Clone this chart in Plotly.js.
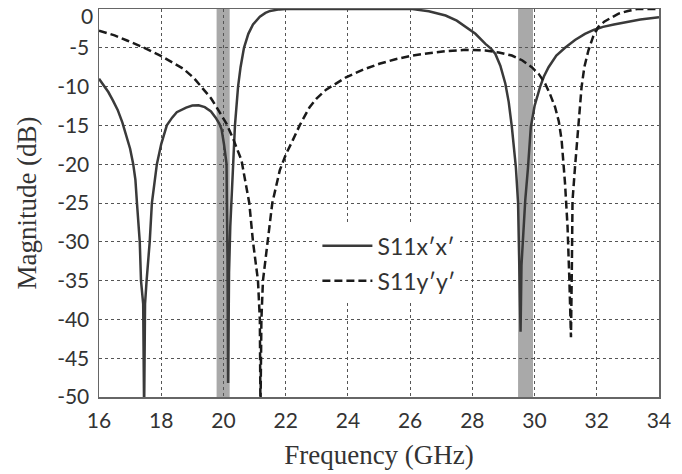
<!DOCTYPE html>
<html>
<head>
<meta charset="utf-8">
<script src="https://cdn.plot.ly/plotly-3.0.1.min.js"></script>
<style>html,body{margin:0;padding:0;background:#fff;}#chart{width:682px;height:474px;}</style>
</head>
<body>
<div id="chart"></div>
<script>
// S11x'x' (solid)
var freqX = [16.0,16.15,16.3,16.45,16.6,16.75,16.9,17.0,17.1,17.17,17.22,17.31,17.35,17.42,17.45,17.48,17.53,17.63,17.70,17.86,18.0,18.18,18.35,18.5,18.8,19.0,19.2,19.4,19.6,19.75,19.87,19.94,20.02,20.10,20.11,20.13,20.15,20.18,20.22,20.26,20.31,20.37,20.47,20.55,20.66,20.8,20.95,21.17,21.35,21.5,21.8,22.0,24.0,26.07,26.6,27.14,27.5,27.78,28.1,28.42,28.6,28.74,28.9,29.06,29.17,29.27,29.40,29.47,29.52,29.55,29.58,29.65,29.70,29.79,29.88,30.0,30.18,30.3,30.45,30.7,30.98,31.3,31.62,31.9,32.2,32.55,32.9,33.4,34.0];
var magX  = [-9.0,-9.8,-10.7,-11.8,-13.0,-14.6,-16.5,-18.0,-20.0,-22.0,-25,-30,-35,-38,-52,-38,-35,-30,-25,-20,-17.4,-15,-14.0,-13.3,-12.7,-12.45,-12.4,-12.65,-13.2,-14.0,-14.8,-15.5,-17.5,-20,-25,-32,-48.2,-34,-28,-25,-20,-15,-10,-7.5,-5,-3.2,-2,-1,-0.5,-0.25,-0.05,0,0,0,-0.3,-0.84,-1.5,-2.3,-3.2,-4.5,-5.1,-5.8,-7.3,-9.6,-12,-15.2,-20.4,-25,-33,-41.6,-33,-27,-24.7,-20.4,-15.2,-12.5,-10,-8.7,-7.5,-6.0,-5,-4.0,-3.2,-2.7,-2.3,-2.0,-1.7,-1.35,-1.05];

// S11y'y' (dashed)
var freqY = [16.0,16.5,16.9,17.4,17.97,18.4,18.71,19.05,19.35,19.6,19.78,20.1,20.31,20.58,20.83,20.95,21.11,21.17,21.19,21.22,21.27,21.43,21.57,21.81,22.0,22.23,22.45,22.77,23.0,23.3,23.6,23.94,24.5,25.01,25.5,26.07,26.6,27.14,27.78,28.1,28.42,28.85,29.27,29.6,29.91,30.14,30.34,30.5,30.66,30.78,30.87,30.98,31.06,31.12,31.17,31.2,31.22,31.3,31.41,31.51,31.6,31.73,31.88,32.05,32.25,32.47,32.7,33.0,33.3,34.0];
var magY  = [-2.8,-3.4,-4.06,-4.9,-6.0,-7.0,-7.7,-8.9,-10.3,-11.5,-12.65,-14.8,-16.7,-19.5,-25,-30,-35,-40,-52,-40,-35,-30,-25,-20.8,-18.8,-16.9,-15,-12.65,-11.5,-10.4,-9.6,-8.8,-7.8,-7.06,-6.5,-6.0,-5.7,-5.43,-5.26,-5.28,-5.35,-5.6,-6.0,-6.6,-7.5,-8.4,-9.6,-11,-12.65,-14.5,-16.9,-22.5,-28,-35,-42.3,-33,-24.7,-20.4,-15.2,-10.1,-7.5,-5.35,-3.6,-2.3,-1.6,-1.06,-0.6,-0.25,0,0];

var xTicks = [16,18,20,22,24,26,28,30,32,34];
var yTicks = [0,-5,-10,-15,-20,-25,-30,-35,-40,-45,-50];
var yTickText = ['','-5','-10','-15','-20','-25','-30','-35','-40','-45','-50'];
var bands = [[19.78,20.2],[29.47,29.95]];

var traces = [
  {x: freqX, y: magX, mode: 'lines', name: 'S11x\u2032x\u2032', legendgroup: 'a',
   line: {color: '#3a3a3a', width: 2.5}},
  {x: freqY, y: magY, mode: 'lines', name: 'S11y\u2032y\u2032', legendgroup: 'b',
   line: {color: '#1a1a1a', width: 2.5, dash: '8px,4px'}}
];

var shapes = bands.map(function(b){
  return {type: 'rect', xref: 'x', yref: 'paper', x0: b[0], x1: b[1], y0: 0, y1: 1,
          fillcolor: '#a9a9a9', line: {width: 0}, layer: 'below'};
});

var tickFont = {family: 'Lato, sans-serif', size: 21, color: '#333'};
var titleFont = {family: '"Liberation Serif", serif', size: 27, color: '#333'};

var layout = {
  width: 682, height: 474,
  margin: {l: 99, r: 23, t: 9, b: 77},
  paper_bgcolor: '#fff', plot_bgcolor: '#fff',
  showlegend: true,
  legend: {x: 0.39, y: 0.445, xanchor: 'left', yanchor: 'top', bgcolor: '#fff',
           font: {family: 'Lato, sans-serif', size: 23, color: '#333'},
           traceorder: 'grouped', tracegroupgap: 2, itemwidth: 50},
  xaxis: {range: [16, 34], tickvals: xTicks, ticktext: xTicks.map(String),
          showgrid: true, gridcolor: '#555', griddash: 'dot', gridwidth: 1,
          zeroline: false, showline: true, linecolor: '#666', linewidth: 1.5, mirror: true,
          ticks: '', ticklabelstandoff: 4, tickfont: tickFont,
          title: {text: 'Frequency (GHz)', font: titleFont, standoff: 14}},
  yaxis: {range: [-50, 0], tickvals: yTicks, ticktext: yTickText,
          showgrid: true, gridcolor: '#555', griddash: 'dot', gridwidth: 1,
          zeroline: false, showline: true, linecolor: '#666', linewidth: 1.5, mirror: true,
          ticks: '', ticklabelstandoff: 4, tickfont: tickFont,
          title: {text: 'Magnitude (dB)', font: titleFont, standoff: 12}},
  annotations: [{text: '0', xref: 'paper', yref: 'y', x: 0, y: 0, xanchor: 'right', yanchor: 'middle',
                 xshift: -4, yshift: -6, showarrow: false, font: tickFont}],
  shapes: shapes
};

Plotly.newPlot('chart', traces, layout, {displayModeBar: false, staticPlot: true});
</script>
</body>
</html>
